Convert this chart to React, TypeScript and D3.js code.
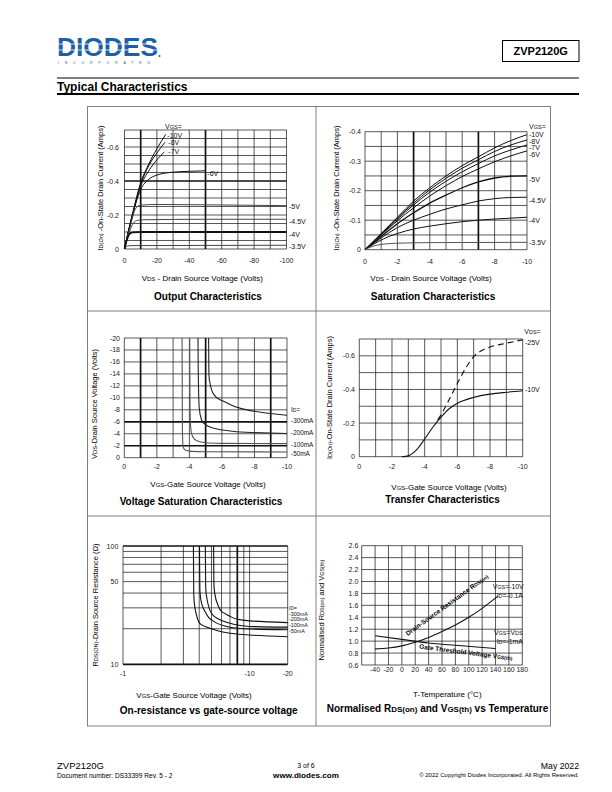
import React from 'react';
import * as d3 from 'd3';

const FONT = '"Liberation Sans", Arial, Helvetica, sans-serif';
type P = [number, number];

// ---------- Output Characteristics (VDS, ID) ----------
const OUT_10V: P[] = [[0, 0], [-2, -0.09], [-5, -0.21], [-10, -0.39], [-15, -0.5], [-20, -0.59], [-25.5, -0.675]];
const OUT_8V: P[] = [[0, 0], [-2, -0.088], [-5, -0.205], [-10, -0.38], [-15, -0.49], [-20, -0.565], [-25, -0.628]];
const OUT_7V: P[] = [[0, 0], [-2, -0.085], [-5, -0.2], [-10, -0.37], [-15, -0.46], [-20, -0.525], [-24.5, -0.57]];
const OUT_6V: P[] = [[0, 0], [-2, -0.08], [-5, -0.2], [-7, -0.27], [-10, -0.35], [-15, -0.41], [-20, -0.435], [-30, -0.452], [-40, -0.457], [-50, -0.46]];
const OUT_5V: P[] = [[0, 0], [-2, -0.075], [-4, -0.15], [-6, -0.22], [-8, -0.25], [-10, -0.258], [-20, -0.262], [-50, -0.26], [-100, -0.255]];
const OUT_45V: P[] = [[0, 0], [-1, -0.04], [-2, -0.07], [-4, -0.125], [-6, -0.158], [-8, -0.168], [-12, -0.172], [-50, -0.175], [-100, -0.175]];
const OUT_4V: P[] = [[0, 0], [-1, -0.04], [-2, -0.068], [-3, -0.088], [-5, -0.098], [-10, -0.1], [-100, -0.1]];
const OUT_35V: P[] = [[0, 0], [-1, -0.013], [-2, -0.018], [-4, -0.02], [-100, -0.022]];
const OUT_X_TICKS = [0, -20, -40, -60, -80, -100];
const OUT_Y_TICKS = [0, -0.2, -0.4, -0.6];

// ---------- Saturation Characteristics ----------
const SAT_10V: P[] = [[0, 0], [-1, -0.055], [-2, -0.11], [-3, -0.165], [-4, -0.21], [-5, -0.25], [-6, -0.285], [-7, -0.315], [-8, -0.345], [-9, -0.37], [-10, -0.39]];
const SAT_8V: P[] = [[0, 0], [-1, -0.054], [-2, -0.107], [-3, -0.158], [-4, -0.203], [-5, -0.242], [-6, -0.276], [-7, -0.305], [-8, -0.333], [-9, -0.355], [-10, -0.372]];
const SAT_7V: P[] = [[0, 0], [-1, -0.052], [-2, -0.103], [-3, -0.152], [-4, -0.195], [-5, -0.232], [-6, -0.264], [-7, -0.292], [-8, -0.318], [-9, -0.338], [-10, -0.355]];
const SAT_6V: P[] = [[0, 0], [-1, -0.05], [-2, -0.098], [-3, -0.142], [-4, -0.182], [-5, -0.217], [-6, -0.248], [-7, -0.274], [-8, -0.298], [-9, -0.318], [-10, -0.335]];
const SAT_5V: P[] = [[0, 0], [-1, -0.045], [-2, -0.088], [-3, -0.125], [-4, -0.158], [-5, -0.185], [-6, -0.21], [-7, -0.23], [-8, -0.243], [-9, -0.249], [-10, -0.25]];
const SAT_45V: P[] = [[0, 0], [-1, -0.04], [-2, -0.075], [-3, -0.1], [-4, -0.12], [-5, -0.138], [-6, -0.152], [-7, -0.165], [-8, -0.173], [-9, -0.177], [-10, -0.178]];
const SAT_4V: P[] = [[0, 0], [-1, -0.033], [-2, -0.055], [-3, -0.07], [-4, -0.08], [-5, -0.088], [-6, -0.095], [-7, -0.1], [-8, -0.104], [-9, -0.107], [-10, -0.11]];
const SAT_35V: P[] = [[0, 0], [-0.5, -0.012], [-1, -0.018], [-2, -0.022], [-4, -0.024], [-10, -0.025]];
const SAT_X_TICKS = [0, -2, -4, -6, -8, -10];
const SAT_Y_TICKS = [0, -0.1, -0.2, -0.3, -0.4];

// ---------- Voltage Saturation Characteristics (VGS, VDS) ----------
const VS_300: P[] = [[-5.18, -20], [-5.2, -14], [-5.3, -12], [-5.47, -10.7], [-5.8, -9.8], [-6.2, -9.3], [-7.2, -8.2], [-8.6, -7.5], [-10, -7.1]];
const VS_200: P[] = [[-4.53, -20], [-4.56, -12], [-4.6, -8.5], [-4.75, -6.3], [-5, -5.5], [-5.4, -5], [-6.4, -4.5], [-7.8, -4.2], [-10, -4.05]];
const VS_100: P[] = [[-4.02, -20], [-4.04, -8], [-4.08, -5], [-4.2, -3.5], [-4.5, -2.8], [-5, -2.5], [-6, -2.4], [-10, -2.35]];
const VS_50: P[] = [[-3.55, -20], [-3.57, -5], [-3.6, -2], [-3.7, -1.4], [-3.9, -1.15], [-4.2, -1.05], [-5, -1.0], [-10, -0.95]];
const VS_X_TICKS = [0, -2, -4, -6, -8, -10];
const VS_Y_TICKS = [0, -2, -4, -6, -8, -10, -12, -14, -16, -18, -20];

// ---------- Transfer Characteristics (VGS, ID) ----------
const TR_10V: P[] = [[-2.6, 0], [-3, -0.005], [-3.5, -0.04], [-4, -0.105], [-4.5, -0.175], [-5, -0.235], [-5.5, -0.285], [-6, -0.318], [-6.5, -0.338], [-7, -0.353], [-8, -0.372], [-9, -0.383], [-10, -0.392]];
const TR_25V: P[] = [[-4.8, -0.22], [-5, -0.25], [-5.5, -0.34], [-6, -0.435], [-6.5, -0.525], [-7, -0.595], [-7.5, -0.632], [-8, -0.652], [-9, -0.675], [-10, -0.695]];
const TR_X_TICKS = [0, -2, -4, -6, -8, -10];
const TR_Y_TICKS = [0, -0.2, -0.4, -0.6];

// ---------- On-resistance (VGS, RDS) ----------
const RO_300: P[] = [[-5.2, 100], [-5.22, 50], [-5.3, 40], [-5.6, 32], [-6, 28], [-7, 25.5], [-8, 24], [-10, 23.3], [-20, 22.5]];
const RO_200: P[] = [[-4.47, 100], [-4.5, 45], [-4.6, 36], [-5, 27], [-6, 23.5], [-7, 22.2], [-10, 20.9], [-20, 20.6]];
const RO_100: P[] = [[-4.02, 100], [-4.05, 42], [-4.2, 32], [-4.48, 27.5], [-5, 23.7], [-7, 20.6], [-10, 19.9], [-20, 19.6]];
const RO_50: P[] = [[-3.6, 100], [-3.62, 40], [-3.7, 30], [-3.85, 25], [-4.04, 22.2], [-5, 20], [-7, 18.3], [-10, 17.7], [-20, 17.1]];
const RO_X_GRID = [-1, -2, -3, -4, -5, -6, -7, -8, -9, -10, -20];
const RO_X_TICKS = [-1, -10, -20];
const RO_Y_GRID = [10, 20, 30, 40, 50, 60, 70, 80, 90, 100];
const RO_Y_TICKS = [10, 50, 100];

// ---------- Normalised vs Temperature (T, factor) ----------
const NT_RDS: P[] = [[-40, 0.87], [-20, 0.885], [0, 0.92], [20, 0.98], [40, 1.06], [60, 1.16], [80, 1.27], [100, 1.4], [120, 1.55], [143, 1.75]];
const NT_VGS: P[] = [[-40, 1.09], [0, 1.03], [40, 0.97], [80, 0.93], [140, 0.875]];
const NT_X_TICKS = [-40, -20, 0, 20, 40, 60, 80, 100, 120, 140, 160, 180];
const NT_Y_TICKS = [0.6, 0.8, 1.0, 1.2, 1.4, 1.6, 1.8, 2.0, 2.2, 2.4, 2.6];

const near = (a: number, list: number[]) => list.some((t) => Math.abs(a - t) < 1e-9);

function Grid({ x, y, xs, ys, thickX = [], thickY = [] }: any) {
  const [xa, xb] = x.range();
  const [ya, yb] = y.range();
  return (
    <g>
      {xs.map((v: number, i: number) => (
        <line key={'gx' + i} x1={x(v)} x2={x(v)} y1={ya} y2={yb} stroke="#111" strokeWidth={near(v, thickX) ? 1.7 : 0.7} />
      ))}
      {ys.map((v: number, i: number) => (
        <line key={'gy' + i} x1={xa} x2={xb} y1={y(v)} y2={y(v)} stroke="#111" strokeWidth={near(v, thickY) ? 1.7 : 0.7} />
      ))}
    </g>
  );
}

function Curve({ data, x, y, curve = d3.curveMonotoneX, dash, width = 1, color = '#111' }: any) {
  const gen = d3.line<P>().x((d) => x(d[0])).y((d) => y(d[1])).curve(curve);
  return <path d={gen(data) || ''} fill="none" stroke={color} strokeWidth={width} strokeDasharray={dash} />;
}

function XTicks({ x, ticks, yb, fmt = (v: number) => String(v) }: any) {
  return (
    <g>
      {ticks.map((v: number, i: number) => (
        <text key={i} x={x(v)} y={yb} fontSize={7} textAnchor="middle" fill="#222">{fmt(v)}</text>
      ))}
    </g>
  );
}
function YTicks({ y, ticks, xr, fmt = (v: number) => String(v) }: any) {
  return (
    <g>
      {ticks.map((v: number, i: number) => (
        <text key={i} x={xr} y={y(v) + 2.5} fontSize={7} textAnchor="end" fill="#222">{fmt(v)}</text>
      ))}
    </g>
  );
}

const f1 = (v: number) => (v === 0 ? '0' : v.toFixed(1));
const sub = (s: string, size = 5.5) => <tspan fontSize={size}>{s}</tspan>;

export default function App() {
  // scales
  const x1 = d3.scaleLinear().domain([0, -100]).range([124.5, 286.5]);
  const y1 = d3.scaleLinear().domain([0, -0.7]).range([249, 130]);
  const x2 = d3.scaleLinear().domain([0, -10]).range([365, 527]);
  const y2 = d3.scaleLinear().domain([0, -0.4]).range([249.7, 131.7]);
  const x3 = d3.scaleLinear().domain([0, -10]).range([124.3, 287]);
  const y3 = d3.scaleLinear().domain([0, -20]).range([457.7, 338]);
  const x4 = d3.scaleLinear().domain([0, -10]).range([359.3, 522.7]);
  const y4 = d3.scaleLinear().domain([0, -0.7]).range([456.7, 339]);
  const x5 = d3.scaleLog().domain([-1, -20]).range([123, 287.7]);
  const y5 = d3.scaleLog().domain([10, 100]).range([664.3, 546]);
  const x6 = d3.scaleLinear().domain([-60, 180]).range([361.7, 522.3]);
  const y6 = d3.scaleLinear().domain([0.6, 2.6]).range([665, 545.7]);

  const r = (a: number, b: number, s: number) => d3.range(0, Math.round((b - a) / s) + 1).map((i) => +(a + i * s).toFixed(6));

  return (
    <svg width={612} height={792} viewBox="0 0 612 792" style={{ position: 'absolute', left: 0, top: 0, background: '#fff' }} fontFamily={FONT}>
      <rect x={0} y={0} width={612} height={792} fill="#fff" />

      {/* Header */}
      <text x={57} y={55.5} fontSize={25} fontWeight="bold" fill="#1d5fa6" textLength={101} lengthAdjust="spacingAndGlyphs">DIODES</text>
      <line x1={57} x2={158} y1={44} y2={44} stroke="#fff" strokeWidth={0.8} />
      <line x1={57} x2={158} y1={50} y2={50} stroke="#fff" strokeWidth={0.8} />
      <circle cx={159.5} cy={56} r={1} fill="#1d5fa6" />
      <text x={58} y={63.5} fontSize={3.6} fill="#1d5fa6" textLength={92} lengthAdjust="spacing">INCORPORATED</text>
      <rect x={502.5} y={40.5} width={76.5} height={21} fill="none" stroke="#000" strokeWidth={1} />
      <text x={540.7} y={55} fontSize={11} fontWeight="bold" textAnchor="middle">ZVP2120G</text>
      <line x1={57} x2={579} y1={78} y2={78} stroke="#000" strokeWidth={1} />
      <text x={57} y={91} fontSize={12} fontWeight="bold">Typical Characteristics</text>
      <line x1={57} x2={579} y1={94} y2={94} stroke="#000" strokeWidth={2} />

      {/* Panel frames */}
      <rect x={87.5} y={106.5} width={463} height={619.5} fill="none" stroke="#808080" strokeWidth={1} />
      <line x1={316} x2={316} y1={106.5} y2={726} stroke="#808080" strokeWidth={1} />
      <line x1={87.5} x2={550.5} y1={311} y2={311} stroke="#808080" strokeWidth={1} />
      <line x1={87.5} x2={550.5} y1={516} y2={516} stroke="#808080" strokeWidth={1} />

      {/* Chart 1: Output Characteristics */}
      <Grid x={x1} y={y1} xs={r(-100, 0, 10)} ys={r(-0.7, 0, 0.05)} thickX={[-10, -50]} thickY={[-0.4]} />
      {[OUT_10V, OUT_8V, OUT_7V, OUT_6V, OUT_5V, OUT_45V, OUT_35V].map((d, i) => (
        <Curve key={i} data={d} x={x1} y={y1} color={i >= 4 ? '#444' : '#111'} />
      ))}
      <Curve data={OUT_4V} x={x1} y={y1} width={1.8} />
      <XTicks x={x1} ticks={OUT_X_TICKS} yb={263.3} />
      <YTicks y={y1} ticks={OUT_Y_TICKS} xr={119} fmt={f1} />
      <g fontSize={7} fill="#111">
        <text x={165} y={129.3}>V{sub('GS')}=</text>
        <text x={167.3} y={138.3}>-10V</text>
        <text x={168.3} y={145}>-8V</text>
        <text x={168.3} y={153.7}>-7V</text>
        <text x={207.3} y={175.7}>-6V</text>
        <text x={289} y={209.3}>-5V</text>
        <text x={289} y={224}>-4.5V</text>
        <text x={289} y={237.3}>-4V</text>
        <text x={289} y={249}>-3.5V</text>
      </g>
      <text x={202.3} y={280.7} fontSize={8} textAnchor="middle">V{sub('DS', 6)} - Drain Source Voltage (Volts)</text>
      <text transform="translate(103,188) rotate(-90)" fontSize={7.5} textAnchor="middle">I{sub('D(On)')} -On-State Drain Current (Amps)</text>
      <text x={208} y={300} fontSize={10} fontWeight="bold" textAnchor="middle">Output Characteristics</text>

      {/* Chart 2: Saturation Characteristics */}
      <Grid x={x2} y={y2} xs={r(-10, 0, 1)} ys={r(-0.4, 0, 0.05)} thickX={[-3, -7]} />
      {[SAT_10V, SAT_8V, SAT_7V, SAT_6V, SAT_5V, SAT_45V, SAT_4V, SAT_35V].map((d, i) => (
        <Curve key={i} data={d} x={x2} y={y2} color={i === 7 ? '#555' : '#111'} width={i === 4 ? 1.3 : 1} />
      ))}
      <XTicks x={x2} ticks={SAT_X_TICKS} yb={263.7} />
      <YTicks y={y2} ticks={SAT_Y_TICKS} xr={361} fmt={f1} />
      <g fontSize={7} fill="#111">
        <text x={529} y={129.3}>V{sub('GS')}=</text>
        <text x={529} y={136.7}>-10V</text>
        <text x={529} y={144}>-8V</text>
        <text x={529} y={150}>-7V</text>
        <text x={529} y={156.7}>-6V</text>
        <text x={529} y={181.7}>-5V</text>
        <text x={529} y={203.3}>-4.5V</text>
        <text x={529} y={223.3}>-4V</text>
        <text x={529} y={245}>-3.5V</text>
      </g>
      <text x={431} y={281} fontSize={8} textAnchor="middle">V{sub('DS', 6)} - Drain Source Voltage (Volts)</text>
      <text transform="translate(338.5,188) rotate(-90)" fontSize={7.5} textAnchor="middle">I{sub('D(On)')} -On-State Drain Current (Amps)</text>
      <text x={433} y={300} fontSize={10} fontWeight="bold" textAnchor="middle">Saturation Characteristics</text>

      {/* Chart 3: Voltage Saturation Characteristics */}
      <Grid x={x3} y={y3} xs={r(-10, 0, 1)} ys={r(-20, 0, 2)} thickX={[-1, -5, -9]} thickY={[-2, -6]} />
      {[VS_300, VS_200, VS_100, VS_50].map((d, i) => (
        <Curve key={i} data={d} x={x3} y={y3} curve={d3.curveMonotoneY} color={i >= 2 ? '#555' : '#222'} width={1.1} />
      ))}
      <XTicks x={x3} ticks={VS_X_TICKS} yb={469.3} />
      <YTicks y={y3} ticks={VS_Y_TICKS} xr={120} />
      <g fontSize={6.4} fill="#111">
        <text x={291} y={411.5}>I{sub('D', 5)}=</text>
        <text x={291} y={423.3}>-300mA</text>
        <text x={291} y={435}>-200mA</text>
        <text x={291} y={446.7}>-100mA</text>
        <text x={291} y={456}>-50mA</text>
      </g>
      <text x={208} y={486.7} fontSize={8} textAnchor="middle">V{sub('GS', 6)}-Gate Source Voltage  (Volts)</text>
      <text transform="translate(97,404) rotate(-90)" fontSize={7.5} textAnchor="middle">V{sub('DS', 6)}-Drain Source  Voltage (Volts)</text>
      <text x={201} y={505} fontSize={10} fontWeight="bold" textAnchor="middle">Voltage Saturation Characteristics</text>

      {/* Chart 4: Transfer Characteristics */}
      <Grid x={x4} y={y4} xs={r(-10, 0, 1)} ys={r(-0.7, 0, 0.1)} />
      <Curve data={TR_10V} x={x4} y={y4} width={1.1} />
      <Curve data={TR_25V} x={x4} y={y4} width={1.1} dash="6,4" />
      <XTicks x={x4} ticks={TR_X_TICKS} yb={469.3} />
      <YTicks y={y4} ticks={TR_Y_TICKS} xr={355} fmt={f1} />
      <g fontSize={7} fill="#111">
        <text x={524.3} y={334.3}>V{sub('DS')}=</text>
        <text x={525} y={345.3}>-25V</text>
        <text x={525} y={392.3}>-10V</text>
      </g>
      <text x={449} y={490} fontSize={8} textAnchor="middle">V{sub('GS', 6)}-Gate Source Voltage (Volts)</text>
      <text transform="translate(332,397.5) rotate(-90)" fontSize={7.5} textAnchor="middle">I{sub('D(On)')}-On-State Drain Current  (Amps)</text>
      <text x={442.5} y={503.3} fontSize={10} fontWeight="bold" textAnchor="middle">Transfer Characteristics</text>

      {/* Chart 5: On-resistance vs gate-source voltage */}
      <Grid x={x5} y={y5} xs={RO_X_GRID} ys={RO_Y_GRID} thickX={[-8]} thickY={[10, 100]} />
      {[RO_300, RO_200, RO_100, RO_50].map((d, i) => (
        <Curve key={i} data={d} x={x5} y={y5} curve={d3.curveMonotoneY} width={1.1} />
      ))}
      <XTicks x={x5} ticks={RO_X_TICKS} yb={676} />
      <YTicks y={y5} ticks={RO_Y_TICKS} xr={118.3} />
      <g fontSize={5.4} fill="#111">
        <text x={289} y={609.5}>I{sub('D', 4.5)}=</text>
        <text x={289} y={615.5}>-300mA</text>
        <text x={289} y={621.2}>-200mA</text>
        <text x={289} y={626.9}>-100mA</text>
        <text x={289} y={632.6}>-50mA</text>
      </g>
      <text x={194} y={698.3} fontSize={8} textAnchor="middle">V{sub('GS', 6)}-Gate Source Voltage (Volts)</text>
      <text transform="translate(98,605) rotate(-90)" fontSize={7.5} textAnchor="middle">R{sub('DS(ON)')}-Drain Source Resistance (Ω)</text>
      <text x={208.7} y={714.3} fontSize={10} fontWeight="bold" textAnchor="middle">On-resistance vs gate-source voltage</text>

      {/* Chart 6: Normalised RDS(on) and VGS(th) vs Temperature */}
      <Grid x={x6} y={y6} xs={r(-60, 180, 20)} ys={r(0.6, 2.6, 0.2)} />
      <Curve data={NT_RDS} x={x6} y={y6} width={1.1} />
      <Curve data={NT_VGS} x={x6} y={y6} width={1.1} />
      <XTicks x={x6} ticks={NT_X_TICKS} yb={672.3} />
      <YTicks y={y6} ticks={NT_Y_TICKS} xr={358.3} fmt={(v: number) => v.toFixed(1)} />
      <text transform="translate(448.3,606.7) rotate(-35.8)" fontSize={6.5} fontWeight="bold" textAnchor="middle">Drain-Source Resistance R{sub('DS(on)', 5)}</text>
      <text transform="translate(465.5,654.5) rotate(7.2)" fontSize={6.5} fontWeight="bold" textAnchor="middle">Gate Threshold Voltage V{sub('GS(th)', 5)}</text>
      <g fontSize={6.8} fill="#111">
        <text x={492.7} y={589}>V{sub('GS')}=-10V</text>
        <text x={496.7} y={597.7}>I{sub('D')}=-0.1A</text>
        <text x={494} y={635}>V{sub('GS')}=V{sub('DS')}</text>
        <text x={496.7} y={644}>I{sub('D')}=-1mA</text>
      </g>
      <text x={447.3} y={696.7} fontSize={8} textAnchor="middle">T-Temperature (°C)</text>
      <text transform="translate(324,610) rotate(-90)" fontSize={7.5} textAnchor="middle">Normalised R{sub('DS(on)')} and V{sub('GS(th)')}</text>
      <text x={437.5} y={712.3} fontSize={10} fontWeight="bold" textAnchor="middle">Normalised R{sub('DS(on)', 8)} and V{sub('GS(th)', 8)} vs Temperature</text>

      {/* Footer */}
      <text x={57} y={769} fontSize={9.5}>ZVP2120G</text>
      <text x={57} y={778} fontSize={6.6}>Document number: DS33399 Rev. 5 - 2</text>
      <text x={306} y={768} fontSize={7} textAnchor="middle">3 of 6</text>
      <text x={306} y={778} fontSize={8.1} fontWeight="bold" textAnchor="middle">www.diodes.com</text>
      <text x={579} y={769} fontSize={8.7} textAnchor="end">May 2022</text>
      <text x={579} y={777} fontSize={6} textAnchor="end">© 2022 Copyright Diodes Incorporated. All Rights Reserved.</text>
    </svg>
  );
}
